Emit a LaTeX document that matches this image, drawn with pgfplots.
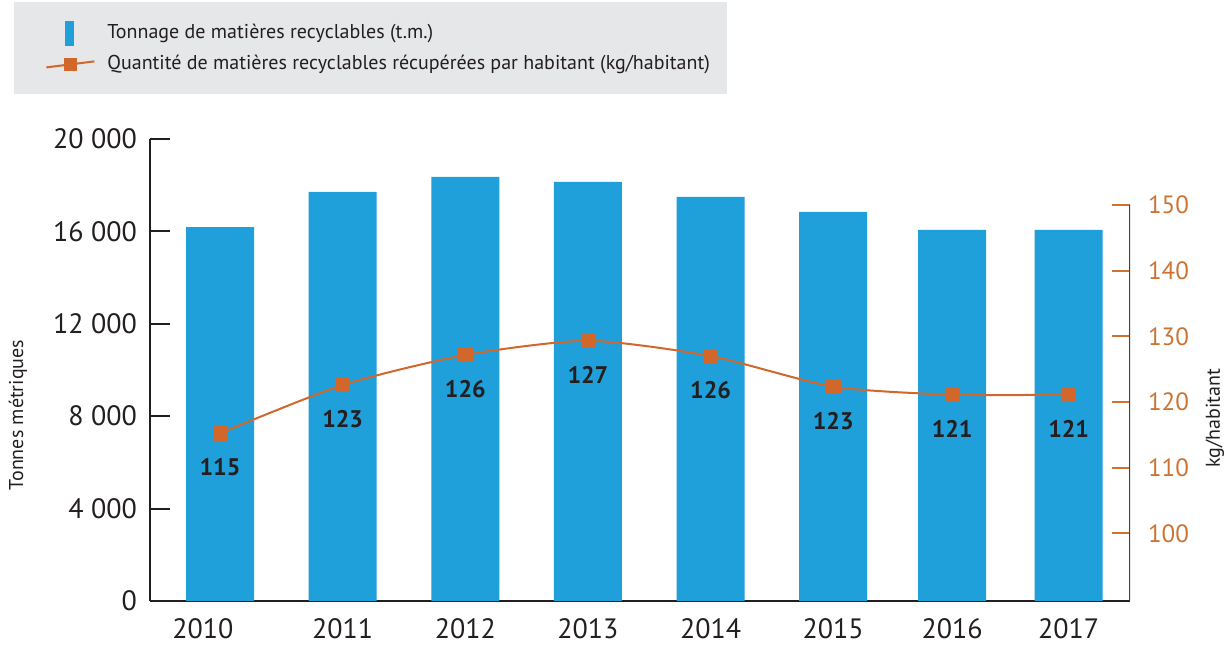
\documentclass[border=0pt]{standalone}
\usepackage{fontspec}
\setmainfont{PT Sans}
\usepackage{pgfplots}
\pgfplotsset{compat=1.18}

\definecolor{barblue}{RGB}{31,160,218}
\definecolor{lineorange}{RGB}{209,103,43}
\definecolor{tickorange}{RGB}{204,115,50}
\definecolor{legendgray}{RGB}{230,231,232}
\definecolor{textdark}{RGB}{35,31,32}

\begin{document}
\begin{tikzpicture}
\useasboundingbox (-75pt,-23pt) rectangle (538.5pt,300.5pt);
\fill[legendgray] (-68pt,253.5pt) rectangle (288.5pt,299.5pt);

% bars: tonnage (left axis)
\begin{axis}[
    at={(0,0)}, anchor=south west,
    scale only axis, width=490pt, height=231pt,
    xmin=-0.571, xmax=7.42,
    ymin=0, ymax=20000,
    scaled y ticks=false,
    axis x line=bottom, axis y line=left,
    axis line style={textdark, line width=1pt, -},
    x axis line style={line width=1.4pt},
    tick align=inside,
    major tick length=10pt,
    tick style={textdark, line width=1pt},
    xtick={-0.14,1,2,3,4,5,5.97,6.92},
    xticklabels={2010,2011,2012,2013,2014,2015,2016,2017},
    xtick style={draw=none},
    extra x ticks={0.5,1.5,2.5,3.5,4.5,5.485,6.445},
    extra x tick labels={},
    extra x tick style={major tick length=8pt},
    ytick={0,4000,8000,12000,16000,20000},
    yticklabels={0,4 000,8 000,12 000,16 000,20 000},
    tick label style={font=\fontsize{14}{16}\selectfont, text=textdark},
    xticklabel style={yshift=-5.5pt},
    yticklabel style={xshift=-3pt},
    ylabel={Tonnes métriques},
    ylabel style={at={(axis description cs:-0.1347,0.4026)}, anchor=center,
        font=\fontsize{10}{12}\selectfont, text=textdark},
    legend style={draw=none, fill=none, at={(rel axis cs:0,1)}, anchor=north west,
        xshift=-52.5pt, yshift=59pt, inner sep=0pt, row sep=3.5pt,
        font=\fontsize{10}{11}\selectfont, text=textdark,
        nodes={inner sep=1pt, text height=7pt, text depth=2pt},
        /tikz/every odd column/.append style={column sep=5pt}},
    legend cell align=left,
]
\addplot[ybar, bar width=34pt, fill=barblue, draw=none,
    legend image code/.code={\fill[barblue] (9.5pt,-6.25pt) rectangle (14pt,6.25pt);}]
coordinates {
    (0,16190) (1,17706) (2,18355) (3,18139)
    (4,17489) (5,16840) (5.97,16061) (6.92,16061)
};
\addlegendentry{Tonnage de matières recyclables (t.m.)}
\addlegendimage{legend image code/.code={
    \draw[lineorange, line width=1pt] (0pt,-1.5pt) -- (24pt,1.5pt);
    \fill[lineorange] (9pt,-3pt) rectangle (15pt,3pt);}}
\addlegendentry{Quantité de matières recyclables récupérées par habitant (kg/habitant)}
\end{axis}

% line: kg per inhabitant (right axis)
\begin{axis}[
    at={(0,0)}, anchor=south west,
    scale only axis, width=490pt, height=231pt,
    xmin=-0.571, xmax=7.42,
    ymin=89.69, ymax=160.05,
    axis x line=none, axis y line*=right,
    y axis line style={draw=none},
    tick align=inside,
    major tick length=9pt,
    ytick={100,110,120,130,140,150},
    ytick style={tickorange, line width=1pt},
    /pgf/number format/assume math mode=true,
    yticklabel style={font=\fontsize{12.5}{14}\selectfont, text=tickorange, xshift=5.5pt},
    ylabel={kg/habitant},
    ylabel style={at={(axis description cs:1.0867,0.396)}, anchor=center,
        font=\fontsize{10}{12}\selectfont, text=textdark},
]
\addplot[lineorange, line width=1pt, smooth, tension=0.4,
    mark=square*, mark size=3.2pt, mark options={fill=lineorange, draw=lineorange},
    nodes near coords, point meta=explicit symbolic,
    every node near coord/.append style={font=\fontsize{12}{14}\selectfont\bfseries,
        text=textdark, anchor=center, yshift=-17pt}]
coordinates {
    (0,115.23) [115] (1,122.59) [123] (2,127.16) [126] (3,129.33) [127]
    (4,127.0) [126] (5,122.33) [123] (5.97,121.11) [121] (6.92,121.11) [121]
};
\draw[textdark!85, line width=1pt] (rel axis cs:1,0) -- (axis cs:7.42,150);
\end{axis}
\end{tikzpicture}
\end{document}
